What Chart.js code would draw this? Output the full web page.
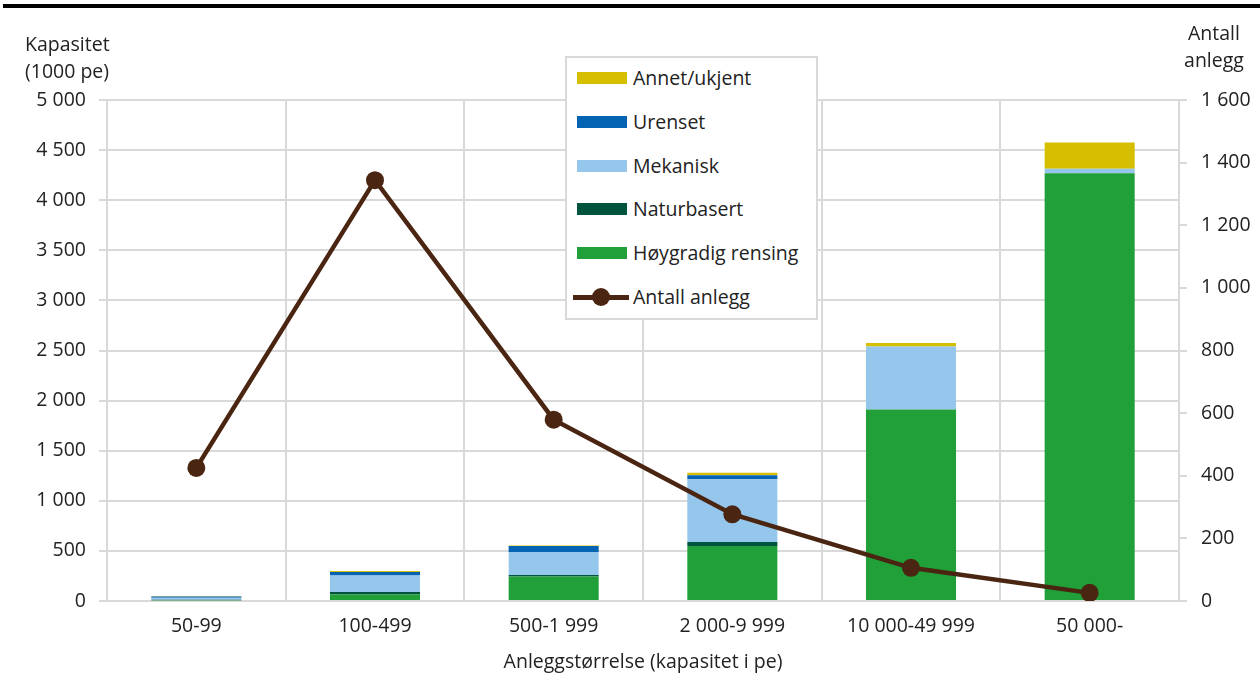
<!DOCTYPE html>
<html>
<head>
<meta charset="utf-8">
<script src="https://cdn.jsdelivr.net/npm/chart.js@4.4.0/dist/chart.umd.min.js"></script>
<style>
  body { margin: 0; background: #fff; font-family: "Open Sans", sans-serif; color: #222; }
  #wrap { position: relative; width: 1260px; height: 678px; }
  #topline { position: absolute; left: 3px; top: 4px; width: 1257px; height: 4px; background: #000; }
  .lbl { position: absolute; font-size: 19.5px; line-height: 27px; }
  #legend { position: absolute; left: 565px; top: 56px; width: 253px; height: 264px;
            border: 2px solid #d9d9d9; background: #fff; box-sizing: border-box; }
  .item { position: absolute; left: 0; height: 24px; font-size: 19.5px; line-height: 24px; }
  .swatch { position: absolute; left: 10px; top: 6px; width: 50px; height: 12px; }
  .item span { position: absolute; left: 66px; white-space: nowrap; }
</style>
</head>
<body>
<div id="wrap">
  <canvas id="myChart" width="1260" height="678"></canvas>
  <div id="topline"></div>
  <div class="lbl" style="left:25px; top:30px;">Kapasitet<br>(1000 pe)</div>
  <div class="lbl" style="left:1160px; top:19px; width:108px; text-align:center;">Antall<br>anlegg</div>
  <div id="legend"></div>
</div>
<script>
// categories
const categories = ['50-99', '100-499', '500-1 999', '2 000-9 999', '10 000-49 999', '50 000-'];

// capacity per treatment type (1000 pe)
const hoygradig   = [8, 65, 245, 550, 1910, 4270];
const naturbasert = [4, 25, 15, 40, 0, 0];
const mekanisk    = [20, 165, 230, 625, 630, 43];
const urenset     = [12, 35, 60, 40, 0, 0];
const annet       = [6, 10, 5, 25, 35, 263];

// number of plants
const antallAnlegg = [425, 1344, 579, 277, 106, 26];

const fmt = v => String(v).replace(/\B(?=(\d{3})+(?!\d))/g, ' ');

const barSeries = [
  { label: 'Høygradig rensing', data: hoygradig, color: '#21a03a' },
  { label: 'Naturbasert', data: naturbasert, color: '#00533d' },
  { label: 'Mekanisk', data: mekanisk, color: '#95c6ec' },
  { label: 'Urenset', data: urenset, color: '#0563b3' },
  { label: 'Annet/ukjent', data: annet, color: '#d6be00' }
];
const lineColor = '#4a2511';

const datasets = barSeries.map(s => ({
  type: 'bar',
  label: s.label,
  data: s.data,
  backgroundColor: s.color,
  borderWidth: 0,
  yAxisID: 'y',
  stack: 'kap',
  order: 1,
  barPercentage: 0.504,
  categoryPercentage: 1
}));
datasets.push({
  type: 'line',
  label: 'Antall anlegg',
  data: antallAnlegg,
  borderColor: lineColor,
  backgroundColor: lineColor,
  borderWidth: 4.5,
  pointRadius: 9,
  pointBackgroundColor: lineColor,
  pointBorderWidth: 0,
  yAxisID: 'y1',
  order: 0
});

const gridColor = '#d9d9d9';
const textColor = '#222';
const tickFont = { family: '"Open Sans", sans-serif', size: 19.5 };

var ctx = document.getElementById('myChart').getContext('2d');
var myChart = new Chart(ctx, {
  data: { labels: categories, datasets: datasets },
  options: {
    responsive: false,
    animation: false,
    layout: { padding: { top: 100, left: 0, right: 0, bottom: 0 } },
    plugins: { legend: { display: false }, tooltip: { enabled: false } },
    scales: {
      x: {
        stacked: true,
        offset: true,
        grid: { offset: true, color: gridColor, lineWidth: 2, drawTicks: false },
        border: { display: false },
        ticks: { color: textColor, font: tickFont, padding: 14 },
        title: { display: true, text: 'Anleggstørrelse (kapasitet i pe)', color: textColor, font: tickFont, padding: { top: 6 } },
        afterFit: s => { s.height = 77; }
      },
      y: {
        stacked: true,
        position: 'left',
        min: 0, max: 5000,
        grid: { color: gridColor, lineWidth: 2, tickLength: 8 },
        border: { display: false },
        ticks: { stepSize: 500, color: textColor, font: tickFont, padding: 13, callback: v => fmt(v) },
        afterFit: s => { s.width = 107; }
      },
      y1: {
        position: 'right',
        min: 0, max: 1600,
        grid: { drawOnChartArea: false, color: gridColor, lineWidth: 2, tickLength: 8 },
        border: { display: true, color: gridColor, width: 2 },
        ticks: { stepSize: 200, color: textColor, font: tickFont, padding: 14, callback: v => fmt(v) },
        afterFit: s => { s.width = 81; }
      }
    }
  }
});

// legend box (top to bottom: reverse of stacking, then the line)
const legend = document.getElementById('legend');
const rows = barSeries.slice().reverse().map(s => ({ label: s.label, color: s.color, line: false }));
rows.push({ label: 'Antall anlegg', color: lineColor, line: true });
rows.forEach((r, i) => {
  const item = document.createElement('div');
  item.className = 'item';
  item.style.top = (8 + i * 43.8) + 'px';
  item.style.width = '245px';
  if (r.line) {
    item.innerHTML = `<div style="position:absolute;left:6px;top:10px;width:56px;height:4.5px;background:${r.color}"></div>` +
      `<div style="position:absolute;left:25px;top:3px;width:18px;height:18px;border-radius:50%;background:${r.color}"></div>` +
      `<span>${r.label}</span>`;
  } else {
    item.innerHTML = `<div class="swatch" style="background:${r.color}"></div><span>${r.label}</span>`;
  }
  legend.appendChild(item);
});
</script>
</body>
</html>
